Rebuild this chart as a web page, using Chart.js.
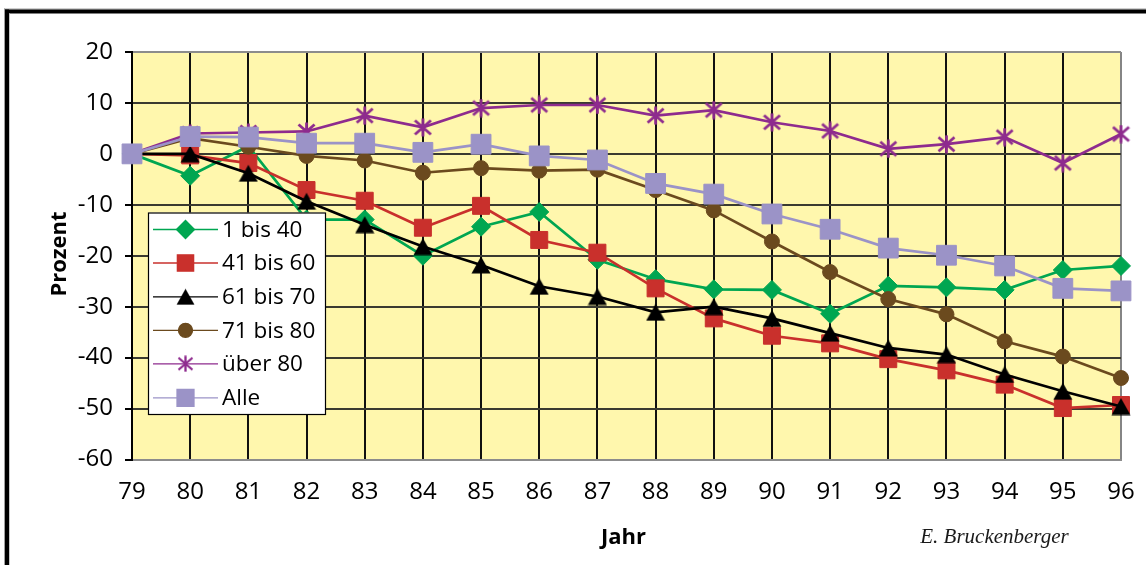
<!DOCTYPE html>
<html>
<head>
<meta charset="utf-8">
<title>Prozent je Jahr</title>
<script src="https://cdn.jsdelivr.net/npm/chart.js@4/dist/chart.umd.min.js"></script>
<style>
  html, body { margin: 0; padding: 0; background: #ffffff; }
  #wrap { position: relative; width: 1146px; height: 565px; }
  canvas { display: block; }
</style>
</head>
<body>
<div id="wrap"><canvas id="chart" width="1146" height="565"></canvas></div>
<script>
// Years on the category axis
const years = ['79','80','81','82','83','84','85','86','87','88','89','90','91','92','93','94','95','96'];
// Value axis tick labels
const yTicks = [20, 10, 0, -10, -20, -30, -40, -50, -60];

// Change in percent per age group
const bis40  = [0, -4.3, 1.5, -12.9, -12.9, -20.0, -14.3, -11.4, -20.8, -24.6, -26.6, -26.7, -31.4, -25.9, -26.2, -26.7, -22.8, -22.0];
const bis60  = [0, -0.3, -1.8, -7.1, -9.2, -14.5, -10.2, -16.9, -19.4, -26.4, -32.3, -35.7, -37.2, -40.3, -42.5, -45.3, -49.9, -49.3];
const bis70  = [0, 0, -3.8, -9.3, -13.9, -18.2, -21.8, -26.0, -28.0, -31.1, -30.0, -32.3, -35.2, -38.1, -39.4, -43.3, -46.6, -49.6];
const bis80  = [0, 3.1, 1.4, -0.4, -1.3, -3.7, -2.8, -3.3, -3.1, -7.1, -11.1, -17.2, -23.2, -28.5, -31.5, -36.8, -39.8, -44.0];
const ueber80 = [0, 4.0, 4.2, 4.4, 7.5, 5.2, 9.0, 9.6, 9.6, 7.5, 8.6, 6.2, 4.5, 1.0, 1.9, 3.3, -1.8, 3.9];
const alle   = [0, 3.4, 3.3, 2.1, 2.1, 0.3, 1.9, -0.4, -1.2, -5.8, -7.9, -11.8, -14.8, -18.5, -19.9, -22.0, -26.4, -26.9];

const seriesNames = ['1 bis 40', '41 bis 60', '61 bis 70', '71 bis 80', 'über 80', 'Alle'];

const GREEN = '#00a651', RED = '#c9302c', BLACK = '#000000', BROWN = '#6b4a1e', PURPLE = '#8e2b8e', LAVENDER = '#9b93c7';

// Small canvas markers for shapes the library does not offer in this form
function markerCanvas(w, h, paint) {
  const c = document.createElement('canvas');
  c.width = w; c.height = h;
  paint(c.getContext('2d'), w, h);
  return c;
}
function triangle(w, h, color) {
  return markerCanvas(w, h, (g) => {
    g.fillStyle = color;
    g.beginPath();
    g.moveTo(w / 2, 0.5);
    g.lineTo(w - 0.5, h - 0.5);
    g.lineTo(0.5, h - 0.5);
    g.closePath();
    g.fill();
  });
}
function asterisk(s, color, lw) {
  return markerCanvas(s, s, (g) => {
    g.strokeStyle = color;
    g.lineWidth = lw;
    g.lineCap = 'butt';
    const m = 1.5;
    g.beginPath();
    g.moveTo(m, m + 1); g.lineTo(s - m, s - m - 1);
    g.moveTo(s - m, m + 1); g.lineTo(m, s - m - 1);
    g.moveTo(s / 2, 0.5); g.lineTo(s / 2, s - 0.5);
    g.stroke();
  });
}
const triBig = triangle(20, 18, BLACK);
const triSmall = triangle(19, 17, BLACK);
const starBig = asterisk(19, PURPLE, 2.8);
const starSmall = asterisk(17, PURPLE, 2.3);

const datasets = [
  { label: seriesNames[0], data: bis40, borderColor: GREEN, backgroundColor: GREEN, pointStyle: 'rectRot', pointRadius: 9.5, legendStyle: 'rectRot', legendRadius: 9, order: 5 },
  { label: seriesNames[1], data: bis60, borderColor: RED, backgroundColor: RED, pointStyle: 'rect', pointRadius: 12, legendStyle: 'rect', legendRadius: 11.5, order: 4 },
  { label: seriesNames[2], data: bis70, borderColor: BLACK, backgroundColor: BLACK, pointStyle: triBig, pointRadius: 10, legendStyle: triSmall, legendRadius: 9, order: 3 },
  { label: seriesNames[3], data: bis80, borderColor: BROWN, backgroundColor: BROWN, pointStyle: 'circle', pointRadius: 7.5, legendStyle: 'circle', legendRadius: 7, order: 2 },
  { label: seriesNames[4], data: ueber80, borderColor: PURPLE, backgroundColor: PURPLE, pointStyle: starBig, pointRadius: 9, legendStyle: starSmall, legendRadius: 8, order: 1 },
  { label: seriesNames[5], data: alle, borderColor: LAVENDER, backgroundColor: LAVENDER, pointStyle: 'rect', pointRadius: 14, legendStyle: 'rect', legendRadius: 12, order: 0 }
].map(d => Object.assign({
  borderWidth: 2.7,
  pointBorderColor: d.borderColor,
  pointBackgroundColor: d.backgroundColor,
  pointBorderWidth: 1,
  pointHoverRadius: d.pointRadius,
  tension: 0,
  clip: false
}, d));

const FONT = '"Open Sans", "Noto Sans", sans-serif';

// Yellow plot area and the heavy black outer frame
const backdrop = {
  id: 'backdrop',
  beforeDraw(chart) {
    const { ctx, chartArea: a, width, height } = chart;
    ctx.save();
    ctx.fillStyle = '#ffffff';
    ctx.fillRect(0, 0, width, height);
    ctx.fillStyle = '#a0a0a0';
    ctx.fillRect(4, 8.5, width, 1);
    ctx.fillRect(4, 8.5, 1, height);
    ctx.fillStyle = '#000000';
    ctx.fillRect(5, 9.5, width, 4);
    ctx.fillRect(5, 9.5, 4, height);
    ctx.fillStyle = '#c8c8c8';
    ctx.fillRect(9, 13.5, 1, height);
    ctx.fillStyle = '#fff7ad';
    ctx.fillRect(a.left, a.top, a.right - a.left, a.bottom - a.top);
    ctx.restore();
  }
};

// Axis titles, author line and the boxed legend
const annotations = {
  id: 'annotations',
  afterDraw(chart) {
    const { ctx } = chart;
    ctx.save();
    ctx.fillStyle = '#000000';
    ctx.textAlign = 'center';
    ctx.textBaseline = 'alphabetic';
    ctx.font = 'bold 22px ' + FONT;
    ctx.fillText('Jahr', 623.5, 544);
    ctx.save();
    ctx.translate(65.5, 254);
    ctx.rotate(-Math.PI / 2);
    ctx.fillText('Prozent', 0, 0);
    ctx.restore();
    ctx.font = 'italic 21px "Liberation Serif", "DejaVu Serif", serif';
    ctx.fillStyle = '#1a1a1a';
    ctx.fillText('E. Bruckenberger', 994.5, 543);

    // legend box
    const bx = 148, by = 212.5, bw = 178, bh = 202.5;
    ctx.fillStyle = '#ffffff';
    ctx.fillRect(bx, by, bw, bh);
    ctx.strokeStyle = '#000000';
    ctx.lineWidth = 1.2;
    ctx.strokeRect(bx + 0.5, by + 0.5, bw - 1, bh - 1);
    const rowY = [229.5, 263, 296.8, 330.3, 363.8, 397.8];
    chart.data.datasets.forEach((ds, i) => {
      const y = rowY[i];
      ctx.strokeStyle = ds.borderColor;
      ctx.lineWidth = 1.3;
      ctx.beginPath();
      ctx.moveTo(153, y);
      ctx.lineTo(218, y);
      ctx.stroke();
      ctx.fillStyle = ds.backgroundColor;
      ctx.strokeStyle = ds.borderColor;
      Chart.helpers.drawPoint(ctx, { pointStyle: ds.legendStyle, radius: ds.legendRadius, borderWidth: 1, rotation: 0 }, 185.5, y);
      ctx.fillStyle = '#000000';
      ctx.font = '22.5px ' + FONT;
      ctx.textAlign = 'left';
      ctx.textBaseline = 'middle';
      ctx.fillText(ds.label, 222, y + 1);
    });
    ctx.restore();
  }
};

new Chart(document.getElementById('chart'), {
  type: 'line',
  data: { labels: years, datasets },
  options: {
    responsive: false,
    animation: false,
    events: [],
    layout: { padding: { top: 52, right: 25, left: 0, bottom: 0 } },
    plugins: { legend: { display: false }, tooltip: { enabled: false } },
    scales: {
      x: {
        type: 'category',
        offset: false,
        grid: {
          color: (c) => c.index === years.length - 1 ? '#858585' : '#111111',
          lineWidth: 2,
          drawTicks: false
        },
        border: { display: true, color: '#8c8c8c', width: 2 },
        ticks: { color: '#000000', font: { family: FONT, size: 24 }, padding: 18, maxRotation: 0, autoSkip: false },
        afterFit(s) { s.height = 105.5; s.paddingLeft = 0; s.paddingRight = 0; }
      },
      y: {
        min: -60,
        max: 20,
        afterBuildTicks(s) { s.ticks = yTicks.map(v => ({ value: v })); },
        grid: {
          color: (c) => (c.tick && (c.tick.value === 20 || c.tick.value === -60)) ? '#8c8c8c' : '#3a3a30',
          lineWidth: 2,
          drawTicks: true,
          tickLength: 7,
          tickColor: '#000000',
          tickWidth: 2
        },
        border: { display: true, color: '#000000', width: 2 },
        ticks: { color: '#000000', font: { family: FONT, size: 24 }, padding: 12, callback: (v) => String(v) },
        afterFit(s) { s.width = 132; s.paddingTop = 0; s.paddingBottom = 0; }
      }
    }
  },
  plugins: [backdrop, annotations]
});
</script>
</body>
</html>
